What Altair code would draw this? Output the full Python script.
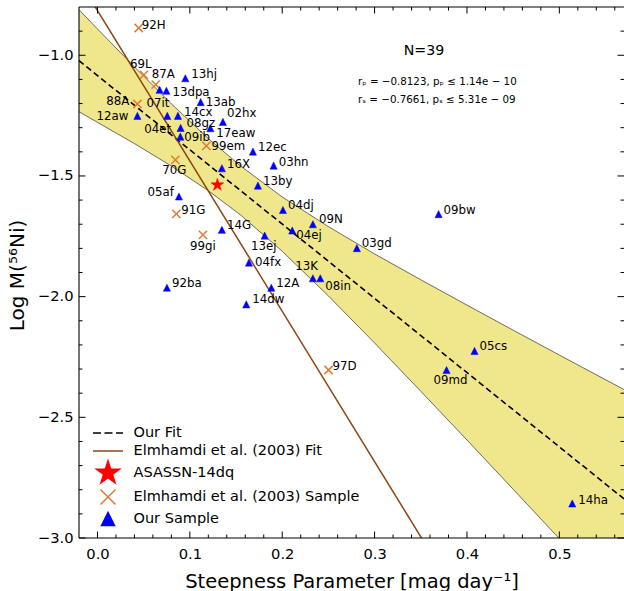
import math
import altair as alt
import pandas as pd

# ---------------------------------------------------------------- data
# Our sample: steepness parameter S [mag/day] and log M(56Ni)
our_names = ["13hj", "", "13dpa", "13ab", "12aw", "04et", "14cx", "08gz", "17eaw", "02hx",
             "09ib", "12ec", "03hn", "16X", "13by", "05af", "04dj", "09N", "14G", "04ej",
             "13ej", "03gd", "04fx", "13K", "08in", "92ba", "12A", "14dw", "09bw", "05cs",
             "09md", "14ha"]
our_s = [0.0951, 0.0673, 0.0746, 0.1117, 0.0432, 0.0756, 0.0871, 0.0900, 0.1222, 0.1358,
         0.0897, 0.1683, 0.1907, 0.1347, 0.1737, 0.0882, 0.2008, 0.2332, 0.1347, 0.2109,
         0.1810, 0.2808, 0.1640, 0.2332, 0.2412, 0.0752, 0.1882, 0.1611, 0.3693, 0.4082,
         0.3779, 0.5140]
our_ni = [-1.095, -1.143, -1.147, -1.194, -1.251, -1.251, -1.251, -1.301, -1.302, -1.276,
          -1.337, -1.399, -1.457, -1.468, -1.540, -1.585, -1.641, -1.700, -1.723, -1.726,
          -1.747, -1.799, -1.859, -1.924, -1.924, -1.963, -1.963, -2.032, -1.658, -2.225,
          -2.304, -2.857]

# Elmhamdi et al. (2003) sample
elm_names = ["92H", "69L", "87A", "88A", "99em", "70G", "91G", "99gi", "97D"]
elm_s = [0.0446, 0.0503, 0.0630, 0.0432, 0.1179, 0.0843, 0.0854, 0.1142, 0.2502]
elm_ni = [-0.887, -1.081, -1.122, -1.202, -1.375, -1.433, -1.657, -1.744, -2.304]

# ASASSN-14dq
asassn_s = [0.1298]
asassn_ni = [-1.537]

# Best fit of our sample and its confidence band
fit_s = [-0.02, 0.57]
fit_ni = [-1.0225, -2.8379]
band_s = [-0.02, 0.0, 0.04, 0.08, 0.12, 0.155, 0.2, 0.25, 0.3, 0.35, 0.4, 0.45, 0.5, 0.57]
band_hi = [-0.811, -0.891, -1.048, -1.201, -1.345, -1.459, -1.587, -1.710, -1.823,
           -1.930, -2.035, -2.139, -2.242, -2.385]
band_lo = [-1.234, -1.278, -1.366, -1.459, -1.561, -1.662, -1.812, -1.997, -2.192,
           -2.392, -2.594, -2.798, -3.003, -3.291]

# Elmhamdi et al. (2003) relation
elm_fit_s = [-0.02, 0.57]
elm_fit_ni = [-0.6901, -4.3655]

# Axis ticks
x_major = [0.0, 0.1, 0.2, 0.3, 0.4, 0.5]
x_minor = [round(0.02 * i, 2) for i in range(1, 29) if i % 5 != 0]
y_major = [-3.0, -2.5, -2.0, -1.5, -1.0]
y_minor = [round(-2.9 + 0.1 * i, 1) for i in range(21) if i % 5 != 4]

SERIES = ["Our Fit", "Elmhamdi et al. (2003) Fit", "ASASSN-14dq",
          "Elmhamdi et al. (2003) Sample", "Our Sample"]
COLORS = ["black", "#8b4513", "red", "#e07b39", "blue"]

# ---------------------------------------------------------------- marker paths
def star_path(R=1.2, r=0.46):
    pts = []
    for k in range(10):
        rad = R if k % 2 == 0 else r
        a = -math.pi / 2 + k * math.pi / 5
        pts.append(f"{rad * math.cos(a):.3f},{rad * math.sin(a):.3f}")
    return "M" + "L".join(pts) + "Z"

DASHED = "M-1.5,0L-0.7,0M-0.35,0L0.45,0M0.8,0L1.5,0"
LINE = "M-1.5,0L1.5,0"
CROSS = "M-0.75,-0.75L0.75,0.75M-0.75,0.75L0.75,-0.75"
TRI = "M0,-0.65L-0.65,0.65L0.65,0.65Z"
STAR = star_path()
SHAPES = [DASHED, LINE, STAR, CROSS, TRI]

W, H = 545, 531
FONT = "DejaVu Sans"

# ---------------------------------------------------------------- encodings
xscale = alt.Scale(domain=[-0.02, 0.57], nice=False, zero=False)
yscale = alt.Scale(domain=[-3.0, -0.8], nice=False, zero=False)
xaxis = alt.Axis(values=x_major, format=".1f", ticks=False, domain=False, grid=False,
                 labelFontSize=14.7, labelPadding=8, labelColor="black",
                 title="Steepness Parameter [mag day⁻¹]", titleFontSize=19.5,
                 titleFontWeight="normal", titleColor="black",
                 titleY=49, titleBaseline="alphabetic")
yaxis = alt.Axis(values=y_major, format=".1f", ticks=False, domain=False, grid=False,
                 labelFontSize=14.7, labelPadding=6, labelColor="black",
                 title="Log M(⁵⁶Ni)", titleFontSize=20, titleFontWeight="normal",
                 titleColor="black", titleX=-62, titleY=268, titleBaseline="middle",
                 titleAlign="center", titleAngle=270)


def X(field):
    return alt.X(f"{field}:Q", scale=xscale, axis=xaxis)


def Y(field):
    return alt.Y(f"{field}:Q", scale=yscale, axis=yaxis)


legend = alt.Legend(
    title=None, orient="none", legendX=18, legendY=415, padding=0,
    symbolSize=400, symbolStrokeWidth=1.5, labelFontSize=14.5, labelFont=FONT,
    labelColor="black", labelOffset=14.5, rowPadding=0, labelLimit=400,
    symbolOpacity=1,
)
fill_enc = alt.Fill("series:N", scale=alt.Scale(domain=SERIES, range=COLORS), legend=legend)
stroke_enc = alt.Stroke("series:N", scale=alt.Scale(domain=SERIES, range=COLORS), legend=legend)
shape_enc = alt.Shape("series:N", scale=alt.Scale(domain=SERIES, range=SHAPES), legend=legend)

# ---------------------------------------------------------------- tables
our_df = pd.DataFrame({"name": our_names, "s": our_s, "ni": our_ni, "series": "Our Sample"})
elm_df = pd.DataFrame({"name": elm_names, "s": elm_s, "ni": elm_ni,
                       "series": "Elmhamdi et al. (2003) Sample"})
star_df = pd.DataFrame({"s": asassn_s, "ni": asassn_ni, "series": "ASASSN-14dq"})
fit_df = pd.DataFrame({"s": fit_s, "ni": fit_ni, "series": "Our Fit"})
elm_fit_df = pd.DataFrame({"s": elm_fit_s, "ni": elm_fit_ni,
                           "series": "Elmhamdi et al. (2003) Fit"})
band_df = pd.DataFrame({"s": band_s, "hi": band_hi, "lo": band_lo})

# ---------------------------------------------------------------- layers
band = alt.Chart(band_df).mark_area(color="#f0e68c", opacity=1, clip=True).encode(
    x=X("s"), y=Y("lo"), y2="hi")
band_top = alt.Chart(band_df).mark_line(color="#333333", strokeWidth=0.7, clip=True).encode(
    x=X("s"), y=Y("hi"))
band_bot = alt.Chart(band_df).mark_line(color="#333333", strokeWidth=0.7, clip=True).encode(
    x=X("s"), y=Y("lo"))

fit = alt.Chart(fit_df).mark_line(strokeDash=[6, 3.5], strokeWidth=1.6, clip=True).encode(
    x=X("s"), y=Y("ni"), stroke=stroke_enc)
elm_fit = alt.Chart(elm_fit_df).mark_line(strokeWidth=1.5, clip=True).encode(
    x=X("s"), y=Y("ni"), stroke=stroke_enc)

elm_pts = alt.Chart(elm_df).mark_point(size=121, strokeWidth=1.5, opacity=1).encode(
    x=X("s"), y=Y("ni"), fill=fill_enc, stroke=stroke_enc, shape=shape_enc)
star_pts = alt.Chart(star_df).mark_point(size=125, strokeWidth=0.5, opacity=1).encode(
    x=X("s"), y=Y("ni"), fill=fill_enc, stroke=stroke_enc, shape=shape_enc)
our_pts = alt.Chart(our_df).mark_point(size=121, strokeWidth=0.5, opacity=1).encode(
    x=X("s"), y=Y("ni"), fill=fill_enc, stroke=stroke_enc, shape=shape_enc)

# name labels: (text, point it belongs to, dx, dy, align)
label_specs = [
    ("92H", "92H", 3, -3, "left"), ("69L", "69L", -14, -11, "left"),
    ("87A", "87A", -4, -11, "left"), ("13hj", "13hj", 6, -4, "left"),
    ("13dpa", "13dpa", 6, 1, "left"), ("13ab", "13ab", 5, 0, "left"),
    ("88A", "88A", -8, -3, "right"), ("07it", "88A", 9, -1.5, "left"),
    ("12aw", "12aw", -9, 0, "right"), ("14cx", "14cx", 6, -4, "left"),
    ("04et", "04et", -23, 13, "left"), ("08gz", "08gz", 6, -5, "left"),
    ("09ib", "09ib", 4, 0, "left"), ("17eaw", "17eaw", 6, 5, "left"),
    ("02hx", "02hx", 4, -9, "left"), ("99em", "99em", 5, 0.5, "left"),
    ("12ec", "12ec", 5, -5, "left"), ("03hn", "03hn", 5, -4, "left"),
    ("70G", "70G", -13, 10, "left"), ("16X", "16X", 5, -4, "left"),
    ("13by", "13by", 5, -5, "left"), ("05af", "05af", -5, -4, "right"),
    ("91G", "91G", 5, -4, "left"), ("99gi", "99gi", 0, 11, "center"),
    ("14G", "14G", 5, -5, "left"), ("13ej", "13ej", -1, 10, "center"),
    ("04dj", "04dj", 5, -5, "left"), ("09N", "09N", 6, -5, "left"),
    ("04ej", "04ej", 4, 4, "left"), ("04fx", "04fx", 6, -1, "left"),
    ("13K", "13K", 5, -12, "right"), ("08in", "08in", 5, 8, "left"),
    ("92ba", "92ba", 5, -5, "left"), ("12A", "12A", 5, -5, "left"),
    ("14dw", "14dw", 6, -5, "left"), ("03gd", "03gd", 5, -5, "left"),
    ("09bw", "09bw", 5, -4, "left"), ("05cs", "05cs", 5, -5, "left"),
    ("09md", "09md", 4, 10, "center"), ("97D", "97D", 4, -4, "left"),
    ("14ha", "14ha", 6, -3, "left"),
]
pos = {n: (s, v) for n, s, v in zip(our_names + elm_names, our_s + elm_s, our_ni + elm_ni)}
labels = []
for text, anchor, dx, dy, align in label_specs:
    s, v = pos[anchor]
    ldf = pd.DataFrame({"s": [s], "ni": [v], "t": [text]})
    labels.append(alt.Chart(ldf).mark_text(
        dx=dx, dy=dy, align=align, baseline="middle", font=FONT, fontSize=11.8,
        color="black").encode(x=X("s"), y=Y("ni"), text="t:N"))

# statistics text
notes = [
    alt.Chart(pd.DataFrame({"t": ["N=39"]})).mark_text(
        align="center", baseline="middle", font=FONT, fontSize=14.2, color="black"
    ).encode(x=alt.value(345), y=alt.value(43.5), text="t:N"),
    alt.Chart(pd.DataFrame({"t": ["rₚ = −0.8123, pₚ ≤ 1.14e − 10"]})).mark_text(
        align="left", baseline="middle", font=FONT, fontSize=10.3, color="black"
    ).encode(x=alt.value(279), y=alt.value(75), text="t:N"),
    alt.Chart(pd.DataFrame({"t": ["rₛ = −0.7661, pₛ ≤ 5.31e − 09"]})).mark_text(
        align="left", baseline="middle", font=FONT, fontSize=10.3, color="black"
    ).encode(x=alt.value(279), y=alt.value(92.7), text="t:N"),
]

# frame and inward ticks
one = pd.DataFrame({"k": [0]})
frame = [
    alt.Chart(one).mark_rule(color="black", strokeWidth=1.1).encode(
        x=alt.value(0), x2=alt.value(W), y=alt.value(0)),
    alt.Chart(one).mark_rule(color="black", strokeWidth=1.1).encode(
        x=alt.value(0), x2=alt.value(W), y=alt.value(H)),
    alt.Chart(one).mark_rule(color="black", strokeWidth=1.1).encode(
        x=alt.value(0), y=alt.value(0), y2=alt.value(H)),
]
ticks = []
for vals, L in ((x_major, 6.5), (x_minor, 3.5)):
    tdf = pd.DataFrame({"t": vals})
    ticks.append(alt.Chart(tdf).mark_rule(color="black", strokeWidth=1).encode(
        x=X("t"), y=alt.value(H), y2=alt.value(H - L)))
    ticks.append(alt.Chart(tdf).mark_rule(color="black", strokeWidth=1).encode(
        x=X("t"), y=alt.value(0), y2=alt.value(L)))
for vals, L in ((y_major, 6.5), (y_minor, 3.5)):
    tdf = pd.DataFrame({"t": vals})
    ticks.append(alt.Chart(tdf).mark_rule(color="black", strokeWidth=1).encode(
        y=Y("t"), x=alt.value(0), x2=alt.value(L)))
    ticks.append(alt.Chart(tdf).mark_rule(color="black", strokeWidth=1).encode(
        y=Y("t"), x=alt.value(W), x2=alt.value(W - L)))

chart = alt.layer(
    band, band_top, band_bot, fit, elm_fit, elm_pts, star_pts, our_pts,
    *labels, *notes, *frame, *ticks,
).properties(
    width=W, height=H,
    padding={"left": 79, "top": 7, "right": 0, "bottom": 53},
    autosize=alt.AutoSizeParams(type="none"),
    background="white",
).configure_view(stroke=None).configure_axis(
    labelFont=FONT, titleFont=FONT
)

chart.save("out.html", embed_options={"renderer": "svg", "actions": False})
